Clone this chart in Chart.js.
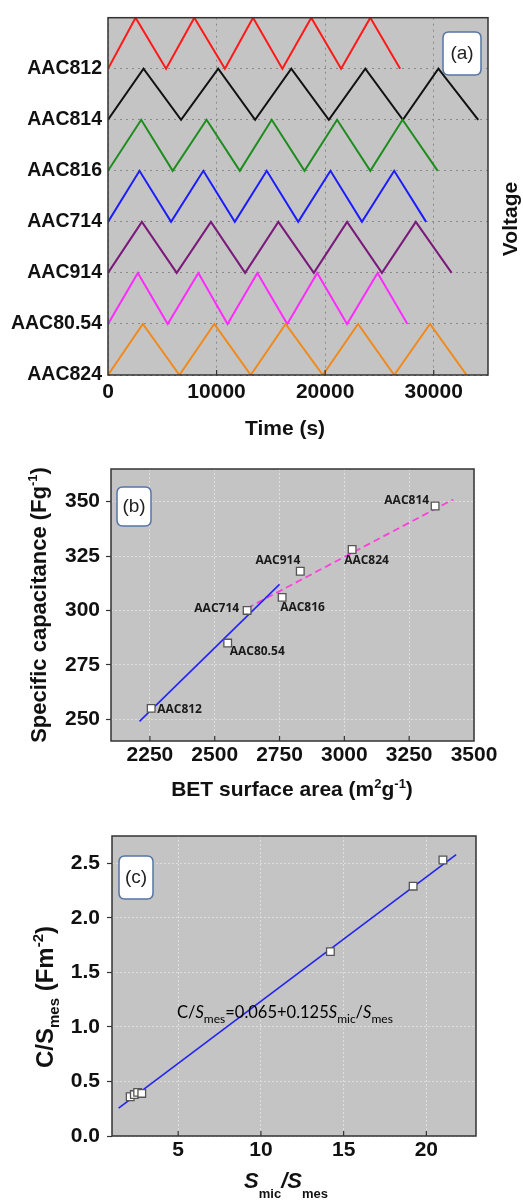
<!DOCTYPE html>
<html>
<head>
<meta charset="utf-8">
<title>Charge-discharge, BET and C/Smes</title>
<script src="https://cdn.jsdelivr.net/npm/chart.js@4.4.0/dist/chart.umd.min.js"></script>
<style>
  html, body { margin: 0; padding: 0; background: #fff; }
  #wrap { position: relative; width: 523px; height: 1202px; }
  canvas { position: absolute; left: 0; }
</style>
</head>
<body>
<div id="wrap">
  <canvas id="chartA" width="523" height="450" style="top:0"></canvas>
  <canvas id="chartB" width="523" height="360" style="top:450px"></canvas>
  <canvas id="chartC" width="523" height="392" style="top:810px"></canvas>
</div>
<script>
// ---- (a) charge/discharge curves: turning-point times (s), bottom to top ----
const samplesA = ['AAC824', 'AAC80.54', 'AAC914', 'AAC714', 'AAC816', 'AAC814', 'AAC812'];
const tAAC824  = [0, 3210, 6580, 9790, 13150, 16360, 19790, 23030, 26360, 29660, 33030];
const tAAC8054 = [0, 2750, 5500, 8320, 11010, 13760, 16510, 19270, 22020, 24830, 27580];
const tAAC914  = [0, 3120, 6330, 9480, 12630, 15690, 18960, 22020, 25230, 28350, 31650];
const tAAC714  = [0, 2900, 5810, 8780, 11680, 14620, 17520, 20490, 23390, 26360, 29300];
const tAAC816  = [0, 3060, 5960, 9080, 12140, 15080, 18100, 21100, 24160, 27130, 30370];
const tAAC814  = [0, 3270, 6730, 10150, 13550, 16880, 20340, 23700, 27160, 30430, 34100];
const tAAC812  = [0, 2540, 5350, 7950, 10770, 13360, 16060, 18720, 21470, 24160, 26910];
// voltage level at each turning point (0 = bottom of its band, 1 = top)
const levelA   = [0, 1, 0, 1, 0, 1, 0, 1, 0, 1, 0];
const xTicksA  = [0, 10000, 20000, 30000];

// ---- (b) specific capacitance vs BET surface area ----
const samplesB = ['AAC812', 'AAC80.54', 'AAC714', 'AAC816', 'AAC914', 'AAC824', 'AAC814'];
const betArea  = [2255, 2550, 2625, 2760, 2830, 3030, 3350];
const specCap  = [255, 285, 300, 306, 318, 328, 348];
const fitLowX  = [2210, 2750];
const fitLowY  = [249, 312];
const fitHighX = [2625, 3420];
const fitHighY = [301, 351];
const xTicksB  = [2250, 2500, 2750, 3000, 3250, 3500];
const yTicksB  = [250, 275, 300, 325, 350];

// ---- (c) C/Smes vs Smic/Smes ----
const ratioMicMes = [2.1, 2.35, 2.55, 2.8, 14.2, 19.2, 21.0];
const capPerMes   = [0.36, 0.38, 0.40, 0.39, 1.69, 2.29, 2.53];
const fitCX    = [1.4, 21.8];
const fitCY    = [0.255, 2.58];
const xTicksC  = [5, 10, 15, 20];
const yTicksC  = [0, 0.5, 1.0, 1.5, 2.0, 2.5];

// ---- styles ----
const seriesA = [tAAC824, tAAC8054, tAAC914, tAAC714, tAAC816, tAAC814, tAAC812];
const colorsA = ['#f08a1c', '#ff2bff', '#7a1a7a', '#1c1cff', '#1e8c1e', '#111111', '#ff1a1a'];
const SANS = "'Liberation Sans', Arial, sans-serif";
const plotBg = '#c4c4c4';
const tickFont = { family: SANS, weight: 'bold', size: 21 };
// label placement next to the markers in (b): [dx, dy, align]
const labelPosB = {
  'AAC812': [6, 1, 'left'],
  'AAC80.54': [2, 8, 'left'],
  'AAC714': [-8, -2, 'right'],
  'AAC816': [-2, 10, 'left'],
  'AAC914': [0, -11, 'right'],
  'AAC824': [-8, 11, 'left'],
  'AAC814': [-6, -5, 'right']
};

function toPoints(xs, ys) {
  return xs.map((x, i) => ({ x: x, y: ys[i] }));
}

// text made of pieces (subscripts, superscripts, italics), centred on x
function drawRich(ctx, parts, x, y, angle) {
  ctx.save();
  ctx.translate(x, y);
  if (angle) ctx.rotate(angle);
  ctx.fillStyle = '#111';
  ctx.textAlign = 'left';
  ctx.textBaseline = 'alphabetic';
  let total = 0;
  parts.forEach(p => { ctx.font = p.font; total += ctx.measureText(p.text).width; });
  let cx = -total / 2;
  parts.forEach(p => {
    ctx.font = p.font;
    ctx.fillText(p.text, cx, p.dy || 0);
    cx += ctx.measureText(p.text).width;
  });
  ctx.restore();
}

function roundBox(ctx, b, label) {
  const r = 6;
  ctx.save();
  ctx.beginPath();
  ctx.moveTo(b.x + r, b.y);
  ctx.lineTo(b.x + b.w - r, b.y);
  ctx.quadraticCurveTo(b.x + b.w, b.y, b.x + b.w, b.y + r);
  ctx.lineTo(b.x + b.w, b.y + b.h - r);
  ctx.quadraticCurveTo(b.x + b.w, b.y + b.h, b.x + b.w - r, b.y + b.h);
  ctx.lineTo(b.x + r, b.y + b.h);
  ctx.quadraticCurveTo(b.x, b.y + b.h, b.x, b.y + b.h - r);
  ctx.lineTo(b.x, b.y + r);
  ctx.quadraticCurveTo(b.x, b.y, b.x + r, b.y);
  ctx.closePath();
  ctx.fillStyle = '#fff';
  ctx.fill();
  ctx.strokeStyle = '#5575a5';
  ctx.lineWidth = 1.5;
  ctx.stroke();
  ctx.fillStyle = '#222';
  ctx.font = '19px ' + SANS;
  ctx.textAlign = 'center';
  ctx.textBaseline = 'middle';
  ctx.fillText(label, b.x + b.w / 2, b.y + b.h / 2);
  ctx.restore();
}

// grey plot area, frame, inward x ticks, panel tag and titles
function panelPlugin(cfg) {
  return {
    id: 'panel',
    beforeDraw(chart) {
      const a = chart.chartArea, ctx = chart.ctx;
      ctx.save();
      ctx.fillStyle = plotBg;
      ctx.fillRect(a.left, a.top, a.right - a.left, a.bottom - a.top);
      ctx.restore();
    },
    afterDatasetsDraw(chart) {
      if (cfg.afterData) cfg.afterData(chart);
      roundBox(chart.ctx, cfg.box, cfg.tag);
    },
    afterDraw(chart) {
      const a = chart.chartArea, ctx = chart.ctx;
      const xs = chart.scales.x;
      ctx.save();
      ctx.strokeStyle = '#333';
      ctx.lineWidth = 1.5;
      ctx.strokeRect(a.left, a.top, a.right - a.left, a.bottom - a.top);
      ctx.lineWidth = 1.2;
      xs.ticks.forEach(t => {
        const px = xs.getPixelForValue(t.value);
        if (px <= a.left + 1 || px >= a.right - 1) return;
        ctx.beginPath();
        ctx.moveTo(px, a.bottom);
        ctx.lineTo(px, a.bottom - 5);
        ctx.stroke();
      });
      ctx.restore();
      cfg.titles(ctx);
    }
  };
}

function baseOptions(pad) {
  return {
    responsive: false,
    animation: false,
    events: [],
    layout: { padding: pad },
    plugins: { legend: { display: false }, tooltip: { enabled: false } }
  };
}

const plain = v => String(v);

// ---------- (a) ----------
const optsA = baseOptions({ top: 13, right: 35, left: 0, bottom: 0 });
optsA.scales = {
  x: {
    type: 'linear', min: 0, max: 35000,
    afterBuildTicks: s => { s.ticks = xTicksA.map(v => ({ value: v })); },
    afterFit: s => { s.height = 75; },
    grid: { color: '#8a8a8a', drawTicks: false },
    border: { display: false, dash: [2, 4] },
    ticks: { padding: 5, font: tickFont, color: '#111', maxRotation: 0, callback: plain }
  },
  y: {
    type: 'linear', min: 0, max: 7,
    afterBuildTicks: s => { s.ticks = [0, 1, 2, 3, 4, 5, 6, 7].map(v => ({ value: v })); },
    afterFit: s => { s.width = 108; },
    grid: { color: '#8a8a8a', drawTicks: false },
    border: { display: false, dash: [2, 4] },
    ticks: {
      padding: 6, color: '#111',
      font: { family: SANS, weight: 'bold', size: 19.5 },
      callback: v => samplesA[v] || ''
    }
  }
};
new Chart(document.getElementById('chartA'), {
  type: 'scatter',
  data: {
    datasets: seriesA.map((times, i) => ({
      data: times.map((t, k) => ({ x: t, y: i + levelA[k] })),
      showLine: true,
      borderColor: colorsA[i],
      borderWidth: 2,
      pointRadius: 0
    }))
  },
  options: optsA,
  plugins: [panelPlugin({
    tag: '(a)',
    box: { x: 443, y: 32, w: 38, h: 43 },
    titles: ctx => {
      const f = 'bold 21px ' + SANS;
      drawRich(ctx, [{ text: 'Time (s)', font: f }], 285, 435);
      drawRich(ctx, [{ text: 'Voltage', font: f }], 517, 219, -Math.PI / 2);
    }
  })]
});

// ---------- (b) ----------
const lightGrid = { color: '#dedede', drawTicks: true, tickLength: 5, tickColor: '#333', tickWidth: 1.2, tickBorderDash: [] };
const optsB = baseOptions({ top: 19, right: 49, left: 0, bottom: 0 });
optsB.scales = {
  x: {
    type: 'linear', min: 2100, max: 3500,
    afterBuildTicks: s => { s.ticks = xTicksB.map(v => ({ value: v })); },
    afterFit: s => { s.height = 69; },
    grid: { color: '#dedede', drawTicks: false },
    border: { display: false, dash: [2, 2] },
    ticks: { padding: 2, font: tickFont, color: '#111', maxRotation: 0, callback: plain }
  },
  y: {
    type: 'linear', min: 240, max: 365,
    afterBuildTicks: s => { s.ticks = yTicksB.map(v => ({ value: v })); },
    afterFit: s => { s.width = 111; },
    grid: lightGrid,
    border: { display: false, dash: [2, 2] },
    ticks: { padding: 6, font: tickFont, color: '#111', callback: plain }
  }
};
new Chart(document.getElementById('chartB'), {
  type: 'scatter',
  data: {
    datasets: [
      {
        data: toPoints(betArea, specCap),
        pointStyle: 'rect', pointRadius: 5.4,
        pointBackgroundColor: '#fff', pointBorderColor: '#555', pointBorderWidth: 1.3
      },
      {
        data: toPoints(fitLowX, fitLowY),
        showLine: true, pointRadius: 0, borderColor: '#2323ff', borderWidth: 1.6
      },
      {
        data: toPoints(fitHighX, fitHighY),
        showLine: true, pointRadius: 0, borderColor: '#ff40dc', borderWidth: 1.8, borderDash: [7, 4]
      }
    ]
  },
  options: optsB,
  plugins: [panelPlugin({
    tag: '(b)',
    box: { x: 117, y: 37, w: 34, h: 39 },
    afterData: chart => {
      const ctx = chart.ctx;
      const pts = chart.getDatasetMeta(0).data;
      ctx.save();
      ctx.fillStyle = '#1a1a1a';
      ctx.font = "bold 12px 'Open Sans', sans-serif";
      ctx.textBaseline = 'middle';
      samplesB.forEach((name, i) => {
        const p = labelPosB[name];
        ctx.textAlign = p[2];
        ctx.fillText(name, pts[i].x + p[0], pts[i].y + p[1]);
      });
      ctx.restore();
    },
    titles: ctx => {
      const f = 'bold 21px ' + SANS;
      const sup = 'bold 13px ' + SANS;
      drawRich(ctx, [
        { text: 'BET surface area (m', font: f },
        { text: '2', font: sup, dy: -8 },
        { text: 'g', font: f },
        { text: '-1', font: sup, dy: -8 },
        { text: ')', font: f }
      ], 292, 346);
      drawRich(ctx, [
        { text: 'Specific capacitance (Fg', font: 'bold 22px ' + SANS },
        { text: '-1', font: sup, dy: -9 },
        { text: ')', font: 'bold 22px ' + SANS }
      ], 46, 155, -Math.PI / 2);
    }
  })]
});

// ---------- (c) ----------
const optsC = baseOptions({ top: 26, right: 47, left: 0, bottom: 0 });
optsC.scales = {
  x: {
    type: 'linear', min: 1, max: 23,
    afterBuildTicks: s => { s.ticks = xTicksC.map(v => ({ value: v })); },
    afterFit: s => { s.height = 66; },
    grid: { color: '#dedede', drawTicks: false },
    border: { display: false, dash: [2, 2] },
    ticks: { padding: 2, font: tickFont, color: '#111', maxRotation: 0, callback: plain }
  },
  y: {
    type: 'linear', min: 0, max: 2.75,
    afterBuildTicks: s => { s.ticks = yTicksC.map(v => ({ value: v })); },
    afterFit: s => { s.width = 112; },
    grid: lightGrid,
    border: { display: false, dash: [2, 2] },
    ticks: { padding: 7, font: tickFont, color: '#111', callback: v => v.toFixed(1) }
  }
};
new Chart(document.getElementById('chartC'), {
  type: 'scatter',
  data: {
    datasets: [
      {
        data: toPoints(ratioMicMes, capPerMes),
        pointStyle: 'rect', pointRadius: 5.4,
        pointBackgroundColor: '#fff', pointBorderColor: '#555', pointBorderWidth: 1.3
      },
      {
        data: toPoints(fitCX, fitCY),
        showLine: true, pointRadius: 0, borderColor: '#2323f0', borderWidth: 1.6
      }
    ]
  },
  options: optsC,
  plugins: [panelPlugin({
    tag: '(c)',
    box: { x: 119, y: 46, w: 34, h: 43 },
    afterData: chart => {
      // fitted equation written on the plot
      const m = "16.5px Lato, 'Open Sans', sans-serif";
      const mi = "italic 16.5px Lato, 'Open Sans', sans-serif";
      const s = "12px Lato, 'Open Sans', sans-serif";
      const ctx = chart.ctx;
      ctx.save();
      ctx.textAlign = 'left';
      ctx.textBaseline = 'alphabetic';
      ctx.fillStyle = '#000';
      let x = 177;
      [
        { text: 'C/', font: m }, { text: 'S', font: mi }, { text: 'mes', font: s, dy: 5 },
        { text: '=0.065+0.125', font: m }, { text: 'S', font: mi }, { text: 'mic', font: s, dy: 5 },
        { text: '/', font: m }, { text: 'S', font: mi }, { text: 'mes', font: s, dy: 5 }
      ].forEach(p => {
        ctx.font = p.font;
        ctx.fillText(p.text, x, 208 + (p.dy || 0));
        x += ctx.measureText(p.text).width;
      });
      ctx.restore();
    },
    titles: ctx => {
      const f = 'bold 24px ' + SANS;
      const sub = 'bold 15px ' + SANS;
      drawRich(ctx, [
        { text: 'C/S', font: f },
        { text: 'mes', font: sub, dy: 6 },
        { text: ' (Fm', font: f },
        { text: '-2', font: sub, dy: -10 },
        { text: ')', font: f }
      ], 53, 187, -Math.PI / 2);
      drawRich(ctx, [
        { text: 'S', font: 'italic bold 22px ' + SANS },
        { text: 'mic', font: 'bold 13px ' + SANS, dy: 10 },
        { text: '/', font: 'italic bold 22px ' + SANS },
        { text: 'S', font: 'italic bold 22px ' + SANS },
        { text: 'mes', font: 'bold 13px ' + SANS, dy: 10 }
      ], 286, 378);
    }
  })]
});
</script>
</body>
</html>
